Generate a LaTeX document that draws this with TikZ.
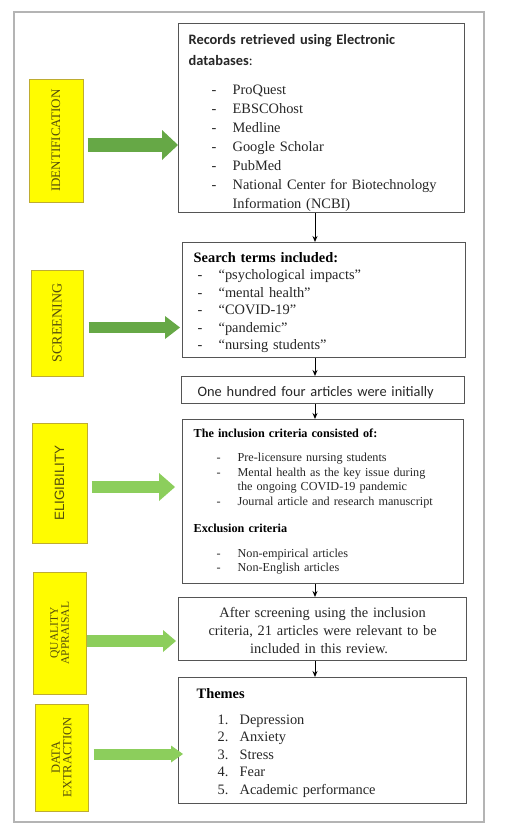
\documentclass[tikz,border=0pt]{standalone}
\usepackage{fontspec}
\setmainfont{Liberation Serif}
\setsansfont{Liberation Sans}
\newfontfamily\calibrifont{Carlito}
\usetikzlibrary{arrows.meta}

\definecolor{labelyellow}{RGB}{255,252,0}
\definecolor{labelborder}{RGB}{190,172,50}
\definecolor{labeltext}{RGB}{85,78,12}
\definecolor{arrowdark}{RGB}{102,168,70}
\definecolor{arrowlight}{RGB}{140,206,92}
\definecolor{boxline}{RGB}{85,85,85}
\definecolor{framegray}{RGB}{180,180,180}

% one dashed list line: indent, dash, text
\newcommand{\listline}[2]{\hspace*{#1}\makebox[21pt][l]{\rmfamily -}{\rmfamily #2}}

\begin{document}
\begin{tikzpicture}[
    x=1pt, y=-1pt,
    stage/.style={rectangle, draw=labelborder, line width=1pt, fill=labelyellow, text=labeltext,
                  rotate=90, align=center, inner sep=0pt, font=\fontsize{11.5}{11}\selectfont},
    stepbox/.style={rectangle, draw=boxline, line width=1.3pt, align=left, inner xsep=10pt,
                    inner ysep=0pt, anchor=north west, text=black!85},
    link/.style={-{Stealth[length=6pt,width=5pt]}, line width=1pt},
    fatarrow/.style={line cap=butt}
]
    \useasboundingbox (0,0) rectangle (504,835);

    % outer frame
    \draw [framegray, line width=1.3pt] (14,12) rectangle (484,822);

    % stage labels (rotated, so .south is the right side)
    \node (idlab) [stage, minimum width=123pt, minimum height=54pt, font=\fontsize{13}{13}\selectfont] at (56,140.5) {IDENTIFICATION};
    \node (scrlab) [stage, minimum width=106pt, minimum height=52pt, font=\fontsize{14}{14}\selectfont] at (57,323) {SCREENING};
    \node (eliglab) [stage, minimum width=120pt, minimum height=55pt, font=\sffamily\fontsize{13.5}{13.5}\selectfont] at (59.5,483) {ELIGIBILITY};
    \node (qualab) [stage, minimum width=122pt, minimum height=53pt] at (59.5,633) {QUALITY\\APPRAISAL};
    \node (datalab) [stage, minimum width=107pt, minimum height=53pt, font=\fontsize{12.5}{11.5}\selectfont] at (61.5,757.5) {DATA\\EXTRACTION};

    % flow boxes
    \node (records) [stepbox, minimum width=286pt, minimum height=189pt, text width=266pt,
                     font=\fontsize{14.4}{19}\selectfont] at (178,23) {%
        \rule{0pt}{19pt}{\calibrifont\bfseries Records retrieved using Electronic}\\[2pt]
        {\calibrifont\bfseries databases}{\calibrifont:}\\[10pt]
        \listline{23pt}{ProQuest}\\
        \listline{23pt}{EBSCOhost}\\
        \listline{23pt}{Medline}\\
        \listline{23pt}{Google Scholar}\\
        \listline{23pt}{PubMed}\\
        \listline{23pt}{National Center for Biotechnology}\\
        \hspace*{44pt}{\rmfamily Information (NCBI)}};

    \node (search) [stepbox, minimum width=283pt, minimum height=115pt, text width=261pt, inner xsep=11pt,
                    font=\fontsize{14.4}{17.5}\selectfont] at (182,242) {%
        \rule{0pt}{15pt}{\bfseries\color{black} Search terms included:}\\
        \listline{4pt}{``psychological impacts''}\\
        \listline{4pt}{``mental health''}\\
        \listline{4pt}{``COVID-19''}\\
        \listline{4pt}{``pandemic''}\\
        \listline{4pt}{``nursing students''}};

    \node (initial) [stepbox, minimum width=283pt, minimum height=27pt, text width=251pt, inner xsep=16pt,
                     font=\calibrifont\fontsize{14.4}{15}\selectfont] at (181,376) {\rule{0pt}{16pt}One hundred four articles were initially};

    \node (criteria) [stepbox, minimum width=281pt, minimum height=164pt, text width=259pt, inner xsep=11pt,
                      font=\fontsize{12.2}{14.5}\selectfont] at (182,419) {%
        {\bfseries\color{black} The inclusion criteria consisted of:}\\[9.5pt]
        \listline{23pt}{Pre-licensure nursing students}\\
        \listline{23pt}{Mental health as the key issue during}\\
        \hspace*{44pt}the ongoing COVID-19 pandemic\\
        \listline{23pt}{Journal article and research manuscript}\\[12.5pt]
        {\bfseries\color{black} Exclusion criteria}\\[10.5pt]
        \listline{23pt}{Non-empirical articles}\\
        \listline{23pt}{Non-English articles}};

    \node (relevant) [stepbox, minimum width=288pt, minimum height=63pt, text width=268pt, align=center,
                      font=\fontsize{14.4}{18}\selectfont] at (178,597) {%
        \rule{0pt}{13pt}After screening using the inclusion\hspace*{7pt}\\
        criteria, 21 articles were relevant to be\hspace*{7pt}\\
        included in this review.\hspace*{7pt}};

    \node (themes) [stepbox, minimum width=288pt, minimum height=126pt, text width=268pt,
                    font=\fontsize{14.4}{17.5}\selectfont] at (178,677) {%
        \rule{0pt}{14pt}\hspace*{8pt}{\bfseries\color{black} Themes}\\[8.5pt]
        \hspace*{29pt}\makebox[22pt][l]{1.}Depression\\
        \hspace*{29pt}\makebox[22pt][l]{2.}Anxiety\\
        \hspace*{29pt}\makebox[22pt][l]{3.}Stress\\
        \hspace*{29pt}\makebox[22pt][l]{4.}Fear\\
        \hspace*{29pt}\makebox[22pt][l]{5.}Academic performance};

    % vertical flow
    \coordinate (flow) at (315,0);
    \draw [link] (records.south -| flow) -- (search.north -| flow);
    \draw [link] (search.south -| flow) -- (initial.north -| flow);
    \draw [link] (initial.south -| flow) -- (criteria.north -| flow);
    \draw [link] (criteria.south -| flow) -- (relevant.north -| flow);
    \draw [link] (relevant.south -| flow) -- (themes.north -| flow);

    % green arrows from stages to boxes
    \coordinate (row1) at (0,145);
    \coordinate (row2) at (0,327.5);
    \coordinate (row3) at (0,487);
    \coordinate (row4) at (0,641);
    \coordinate (row5) at (0,754);
    \draw [fatarrow, arrowdark, line width=14pt, shorten <=4pt,
           -{Triangle[length=16pt,width=30pt,line width=0pt]}] (idlab.south |- row1) -- (records.west |- row1);
    \draw [fatarrow, arrowdark, line width=11pt, shorten <=5pt, shorten >=2pt,
           -{Triangle[length=15pt,width=23pt,line width=0pt]}] (scrlab.south |- row2) -- (search.west |- row2);
    \draw [fatarrow, arrowlight, line width=12pt, shorten <=4pt, shorten >=7pt,
           -{Triangle[length=16pt,width=28pt,line width=0pt]}] (eliglab.south |- row3) -- (criteria.west |- row3);
    \draw [fatarrow, arrowlight, line width=12pt, shorten >=2pt,
           -{Triangle[length=13pt,width=22pt,line width=0pt]}] (qualab.south |- row4) -- (relevant.west |- row4);
    \draw [fatarrow, arrowlight, line width=11pt, shorten <=5pt, shorten >=-5pt,
           -{Triangle[length=12pt,width=17pt,line width=0pt]}] (datalab.south |- row5) -- (themes.west |- row5);

\end{tikzpicture}
\end{document}
